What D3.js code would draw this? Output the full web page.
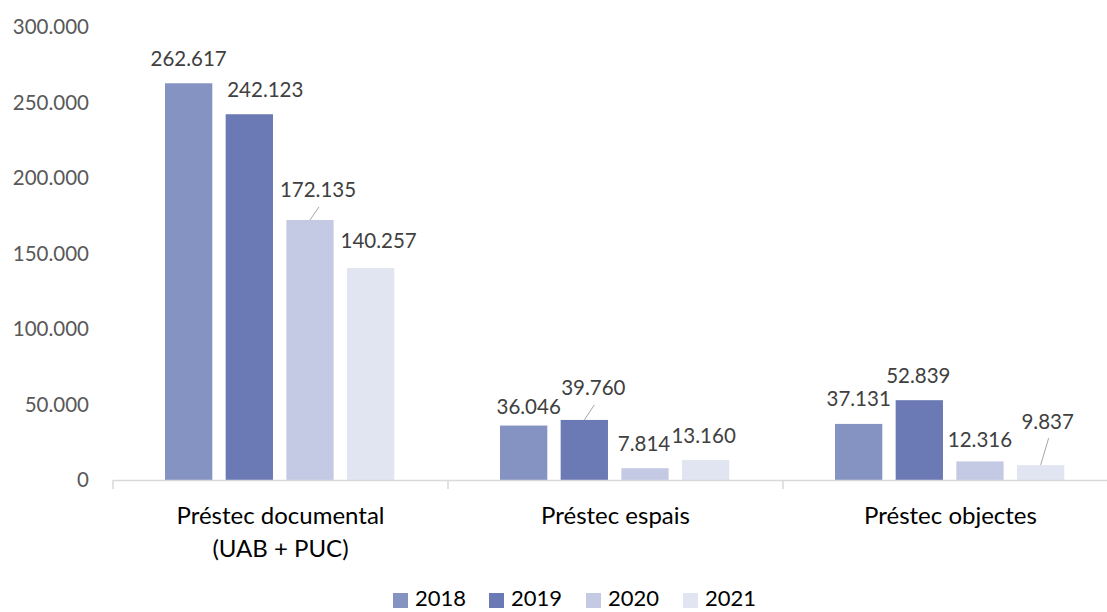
<!DOCTYPE html>
<html>
<head>
<meta charset="utf-8">
<script src="https://cdn.jsdelivr.net/npm/d3@7"></script>
<style>
  html, body { margin: 0; padding: 0; background: #fff; }
  svg text { font-family: Lato, "Open Sans", sans-serif; }
</style>
</head>
<body>
<div id="chartDiv"></div>
<script>
// chart data
const categories = ["Préstec documental\n(UAB + PUC)", "Préstec espais", "Préstec objectes"];
const years = ["2018", "2019", "2020", "2021"];
const values2018 = [262617, 36046, 37131];
const values2019 = [242123, 39760, 52839];
const values2020 = [172135, 7814, 12316];
const values2021 = [140257, 13160, 9837];
const yTicks = [0, 50000, 100000, 150000, 200000, 250000, 300000];

const colors = ["#8593c3", "#6b7ab4", "#c5cae4", "#e1e4f1"];

// manual nudges of the data labels (px), [dx, dy, leader line]
const labelNudge = [
    [[0, -25, 0], [5, -19, 0], [0, -25, 0]],     // 2018
    [[16, -25, 0], [9, -32, 1], [-1, -25, 0]],   // 2019
    [[8, -30, 1], [-1, -25, 0], [0, -22, 0]],    // 2020
    [[8, -27, 0], [-2, -24, 0], [7, -44, 1]]     // 2021
];

const series = [values2018, values2019, values2020, values2021];

const W = 1107, H = 612;
const svg = d3.select("#chartDiv")
    .append("svg")
    .attr("width", W)
    .attr("height", H);

const x = d3.scaleBand()
    .domain(categories)
    .range([113, 1118]);

const xInner = d3.scaleBand()
    .domain(years)
    .range([52, 281.3])
    .paddingInner(0.22);

const y = d3.scaleLinear()
    .domain([0, 300000])
    .range([480, 26.8]);

const fmt = d3.formatLocale({decimal: ",", thousands: ".", grouping: [3]}).format(",");

// y axis labels (no axis line)
svg.append("g")
    .selectAll("text")
    .data(yTicks)
    .enter()
    .append("text")
    .attr("x", 89)
    .attr("y", d => y(d))
    .attr("dy", "0.36em")
    .attr("text-anchor", "end")
    .style("font-size", "20.5px")
    .style("fill", "#595959")
    .text(d => fmt(d));

// bars
years.forEach((yr, i) => {
    svg.append("g")
        .selectAll("rect")
        .data(series[i])
        .enter()
        .append("rect")
        .attr("x", (d, j) => x(categories[j]) + xInner(yr))
        .attr("y", d => y(d))
        .attr("width", xInner.bandwidth())
        .attr("height", d => y(0) - y(d))
        .style("fill", colors[i]);
});

// x axis line and ticks
const xAxis = svg.append("g")
    .attr("transform", "translate(0," + y(0) + ")")
    .call(d3.axisBottom(x).tickSize(0).tickFormat(""));
xAxis.select(".domain").attr("stroke", "#d9d9d9").attr("stroke-width", 1.5);
xAxis.selectAll(".tick").remove();
const tickPos = categories.map(c => x(c)).concat([x.range()[1]]);
xAxis.selectAll("line.sep")
    .data(tickPos)
    .enter()
    .append("line")
    .attr("class", "sep")
    .attr("x1", d => d).attr("x2", d => d)
    .attr("y1", 0).attr("y2", 9)
    .attr("stroke", "#d9d9d9")
    .attr("stroke-width", 1.5);

// category labels
svg.append("g")
    .selectAll("text")
    .data(categories)
    .enter()
    .append("text")
    .attr("x", d => x(d) + x.bandwidth() / 2)
    .attr("y", 515)
    .attr("text-anchor", "middle")
    .style("font-size", "24px")
    .style("fill", "#000")
    .each(function(d) {
        const lines = d.split("\n");
        d3.select(this).selectAll("tspan")
            .data(lines)
            .enter()
            .append("tspan")
            .attr("x", x(d) + x.bandwidth() / 2)
            .attr("dy", (l, k) => k === 0 ? "0.36em" : "33px")
            .text(l => l);
    });

// data labels with leader lines
years.forEach((yr, i) => {
    series[i].forEach((v, j) => {
        const cx = x(categories[j]) + xInner(yr) + xInner.bandwidth() / 2;
        const top = y(v);
        const n = labelNudge[i][j];
        const lx = cx + n[0], ly = top + n[1];
        if (n[2]) {
            svg.append("line")
                .attr("x1", cx).attr("y1", top)
                .attr("x2", lx + 1).attr("y2", ly + 17)
                .attr("stroke", "#a6a6a6")
                .attr("stroke-width", 1);
        }
        svg.append("text")
            .attr("x", lx)
            .attr("y", ly)
            .attr("dy", "0.36em")
            .attr("text-anchor", "middle")
            .style("font-size", "20.5px")
            .style("fill", "#404040")
            .text(fmt(v));
    });
});

// legend
const legendX = [393, 489, 586, 683];
const legend = svg.append("g");
years.forEach((yr, i) => {
    legend.append("rect")
        .attr("x", legendX[i])
        .attr("y", 593)
        .attr("width", 15)
        .attr("height", 15)
        .style("fill", colors[i]);
    legend.append("text")
        .attr("x", legendX[i] + 22)
        .attr("y", 598)
        .attr("dy", "0.36em")
        .style("font-size", "22px")
        .style("fill", "#000")
        .text(yr);
});
</script>
</body>
</html>
